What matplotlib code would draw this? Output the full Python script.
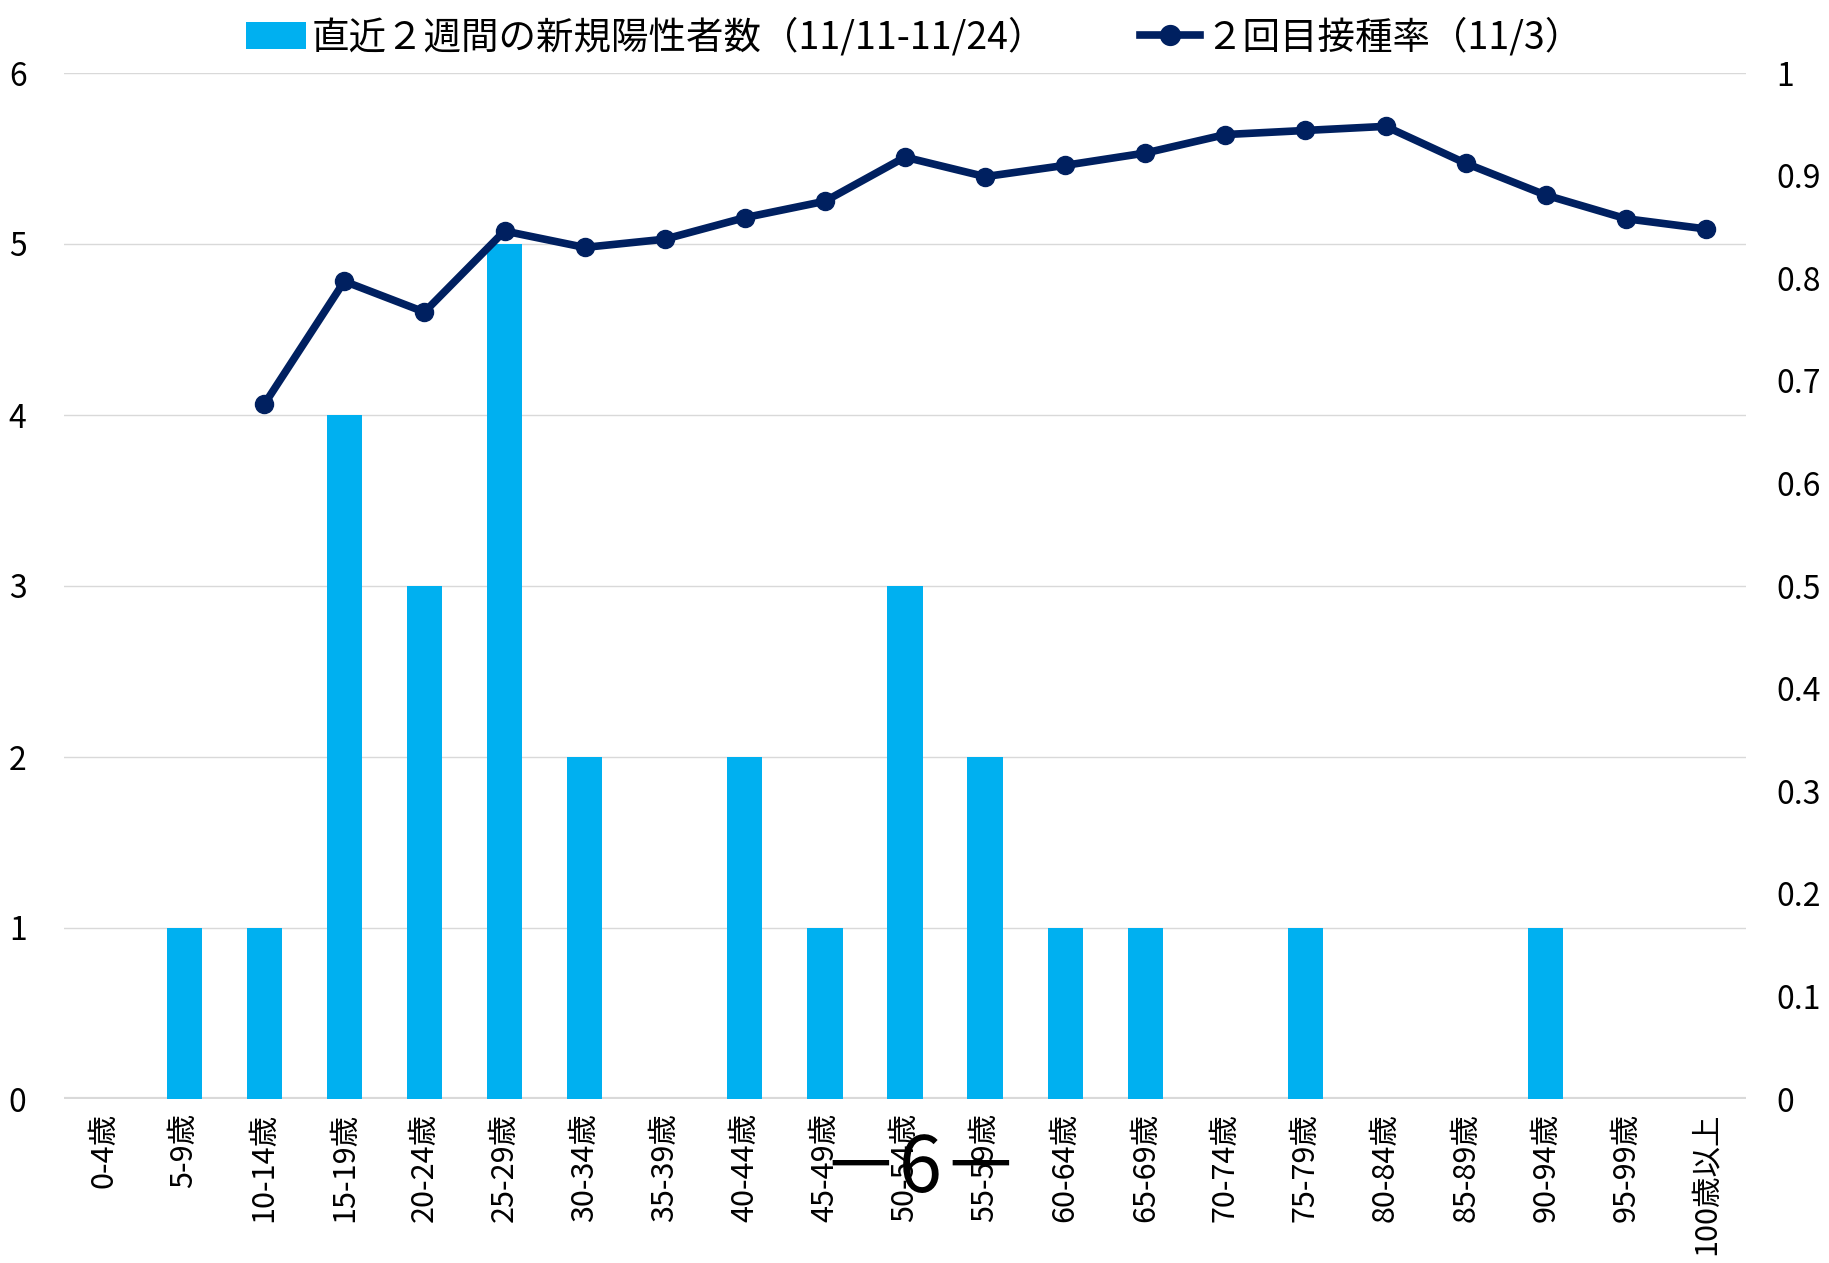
import matplotlib
matplotlib.use("Agg")
import matplotlib.pyplot as plt
import numpy as np

plt.rcParams['font.family'] = ['Noto Sans CJK JP', 'DejaVu Sans']

ages = ['0-4歳', '5-9歳', '10-14歳', '15-19歳', '20-24歳', '25-29歳', '30-34歳',
        '35-39歳', '40-44歳', '45-49歳', '50-54歳', '55-59歳', '60-64歳', '65-69歳',
        '70-74歳', '75-79歳', '80-84歳', '85-89歳', '90-94歳', '95-99歳', '100歳以上']
new_cases = [0, 1, 1, 4, 3, 5, 2, 0, 2, 1, 3, 2, 1, 1, 0, 1, 0, 0, 1, 0, 0]
# 2回目接種率, no value for 0-4 and 5-9
vacc_rate = [np.nan, np.nan, 0.677, 0.797, 0.767, 0.846, 0.830, 0.838, 0.859, 0.875,
             0.918, 0.899, 0.910, 0.922, 0.940, 0.944, 0.948, 0.912, 0.881, 0.858, 0.848]

bar_label = '直近２週間の新規陽性者数（11/11-11/24）'
line_label = '２回目接種率（11/3）'

fig = plt.figure(figsize=(18.29, 12.63), dpi=100)
ax = fig.add_axes([64/1829, 1-1099/1263, (1746-64)/1829, (1099-73)/1263])
ax2 = ax.twinx()

x = np.arange(len(ages))
b = ax.bar(x, new_cases, width=0.44, color='#00B0F0', zorder=2, label=bar_label)
l, = ax2.plot(x, vacc_rate, color='#002060', lw=5.5, marker='o', ms=13, zorder=3,
              label=line_label)

ax.set_xlim(-0.5, len(ages) - 0.5)
ax.set_ylim(0, 6)
ax2.set_ylim(0, 1)
ax.set_yticks(range(7))
ax2.set_yticks(np.arange(0, 1.01, 0.1))
ax2.set_yticklabels(['0', '0.1', '0.2', '0.3', '0.4', '0.5', '0.6', '0.7', '0.8', '0.9', '1'])
ax.set_xticks(x)
ax.set_xticklabels(ages, rotation=90)

ax.grid(axis='y', color='#D9D9D9', lw=1, zorder=0)
ax.set_axisbelow(True)
for a in (ax, ax2):
    for s in ['top', 'left', 'right', 'bottom']:
        a.spines[s].set_visible(False)
    a.tick_params(length=0, labelsize=23)
ax.axhline(0, color='#D9D9D9', lw=3, zorder=1)
ax.tick_params(axis='y', pad=27)
ax.tick_params(axis='x', pad=10, labelsize=22)
ax2.tick_params(axis='y', pad=22)

fig.legend(handles=[b, l], labels=[bar_label, line_label], loc='upper center',
           bbox_to_anchor=(0.5, 1.012), ncol=2, frameon=False, fontsize=27,
           handlelength=1.6, handletextpad=0.15, columnspacing=2.5, markerscale=1.1)

fig.text(921/1829, 1-1170/1263, '－6－', ha='center', va='center', fontsize=56)

fig.savefig('out.png', dpi=100)
